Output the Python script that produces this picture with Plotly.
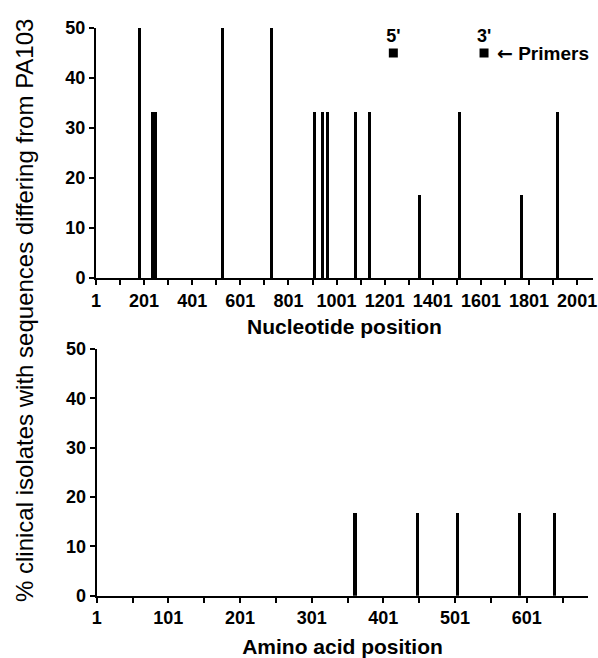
import plotly.graph_objects as go

# Data
nt_pos = [183, 235, 247, 526, 731, 910, 942, 964, 1081, 1139, 1344, 1512, 1771, 1921]
nt_pct = [50, 33.3, 33.3, 50, 50, 33.3, 33.3, 33.3, 33.3, 33.3, 16.7, 33.3, 16.7, 33.3]
aa_pos = [361, 448, 504, 591, 639]
aa_pct = [16.7, 16.7, 16.7, 16.7, 16.7]
primer_pos = [1237, 1614]
primer_pct = [45, 45]
primer_labels = ["5'", "3'"]
nt_ticks = [1, 201, 401, 601, 801, 1001, 1201, 1401, 1601, 1801, 2001]
aa_ticks = [1, 101, 201, 301, 401, 501, 601]
y_ticks = [0, 10, 20, 30, 40, 50]

FONT = "Arial, Liberation Sans, sans-serif"
W, H = 598, 658

fig = go.Figure()
fig.add_trace(go.Bar(x=nt_pos, y=nt_pct, width=12, marker=dict(color="black", line=dict(width=0)),
                     xaxis="x", yaxis="y", showlegend=False))
fig.add_trace(go.Scatter(x=primer_pos, y=primer_pct, mode="markers+text", text=primer_labels,
                         textposition="top center",
                         textfont=dict(family=FONT, size=18, color="black", weight="bold"),
                         marker=dict(symbol="square", size=9, color="black"),
                         xaxis="x", yaxis="y", showlegend=False, cliponaxis=False))
fig.add_trace(go.Bar(x=aa_pos, y=aa_pct, width=4.3, marker=dict(color="black", line=dict(width=0)),
                     xaxis="x2", yaxis="y2", showlegend=False))

axis_common = dict(showline=True, linecolor="black", linewidth=2, ticks="outside",
                   ticklen=5, tickwidth=2, tickcolor="black", showgrid=False, zeroline=False,
                   automargin=False,
                   tickfont=dict(family=FONT, size=18, color="black", weight="bold"))

fig.update_layout(
    width=W, height=H, margin=dict(l=0, r=0, t=0, b=0),
    plot_bgcolor="white", paper_bgcolor="white", bargap=0,
    xaxis=dict(domain=[96 / W, 593 / W], anchor="y", range=[1, 2067],
               tickmode="array", tickvals=nt_ticks, tickangle=0,
               minor=dict(tickmode="linear", tick0=1, dtick=100, ticks="outside", ticklen=5,
                          tickwidth=2, tickcolor="black"),
               title=dict(text="Nucleotide position", standoff=10,
                          font=dict(family=FONT, size=21, color="black", weight="bold")),
               **axis_common),
    yaxis=dict(domain=[1 - 278 / H, 1 - 28 / H], anchor="x", range=[0, 50],
               tickmode="array", tickvals=y_ticks, **axis_common),
    xaxis2=dict(domain=[96.7 / W, 588.3 / W], anchor="y2", range=[1, 687],
                tickmode="array", tickvals=aa_ticks, tickangle=0,
                minor=dict(tickmode="linear", tick0=1, dtick=50, ticks="outside", ticklen=5,
                           tickwidth=2, tickcolor="black"),
                title=dict(text="Amino acid position", standoff=20,
                           font=dict(family=FONT, size=21, color="black", weight="bold")),
                **axis_common),
    yaxis2=dict(domain=[1 - 595.7 / H, 1 - 349 / H], anchor="x2", range=[0, 50],
                tickmode="array", tickvals=y_ticks, **axis_common),
)

fig.add_annotation(x=1660, y=45, xref="x", yref="y", xanchor="left", yanchor="middle",
                   text="<span style='font-family:DejaVu Sans'>\u2190</span> Primers",
                   showarrow=False,
                   font=dict(family=FONT, size=19, color="black", weight="bold"))

fig.add_annotation(x=24 / W, y=1 - 311 / H, xref="paper", yref="paper",
                   xanchor="center", yanchor="middle", textangle=-90,
                   text="% clinical isolates with sequences differing from PA103", showarrow=False,
                   font=dict(family=FONT, size=24, color="black"))

fig.write_html("out.html")
